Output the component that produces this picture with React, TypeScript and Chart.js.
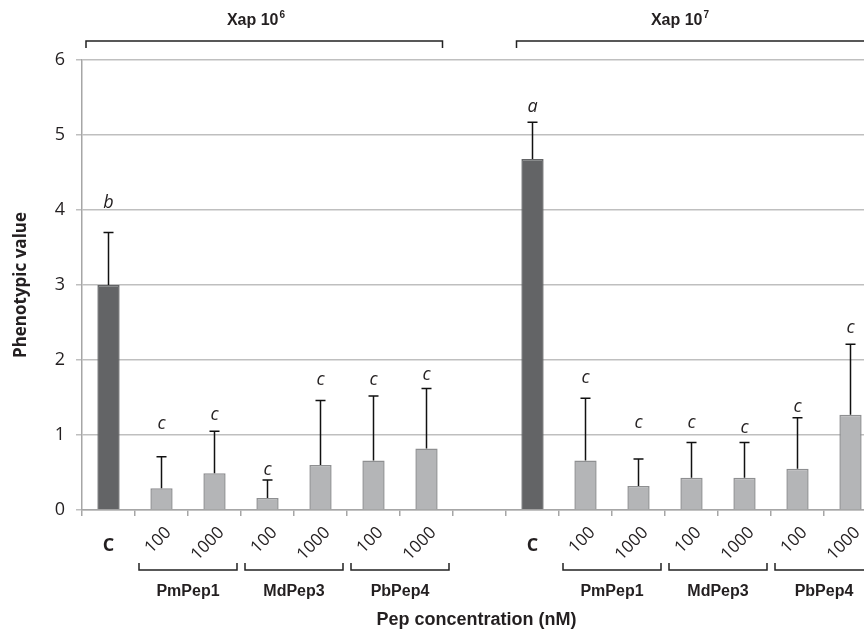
import React, { useEffect, useRef } from 'react';
import { Chart, registerables } from 'chart.js';

Chart.register(...registerables);

// ---- data ----
const categories = ['C', '100', '1000', '100', '1000', '100', '1000', '', 'C', '100', '1000', '100', '1000', '100', '1000'];
const means: (number | null)[] = [3.0, 0.29, 0.49, 0.16, 0.6, 0.66, 0.82, null, 4.68, 0.66, 0.32, 0.43, 0.43, 0.55, 1.27];
const errors: (number | null)[] = [0.7, 0.42, 0.56, 0.24, 0.86, 0.86, 0.8, null, 0.49, 0.83, 0.36, 0.47, 0.47, 0.68, 0.94];
const letters = ['b', 'c', 'c', 'c', 'c', 'c', 'c', '', 'a', 'c', 'c', 'c', 'c', 'c', 'c'];
const letterY: (number | null)[] = [4.09, 1.15, 1.27, 0.53, 1.73, 1.73, 1.8, null, 5.37, 1.76, 1.16, 1.16, 1.09, 1.37, 2.43];
const peptides = ['PmPep1', 'MdPep3', 'PbPep4'];
const peptideStarts = [1, 9];
const inocula = [
  { label: 'Xap 10', sup: '6', start: 0, end: 6 },
  { label: 'Xap 10', sup: '7', start: 8, end: 14 },
];
const yTicks = [0, 1, 2, 3, 4, 5, 6];
const yTitle = 'Phenotypic value';
const xTitle = 'Pep concentration (nM)';

const DARK = '#636466';
const LIGHT = '#b4b5b7';
const LIGHT_BORDER = '#8e8f91';
const GRID = '#bfbfbf';
const TEXT = '#231f20';
const TICKFONT = "'Open Sans', sans-serif";
const ARIAL = "'Liberation Sans', Arial, sans-serif";

const overlay = {
  id: 'overlay',
  afterDraw(chart: any) {
    const ctx = chart.ctx as CanvasRenderingContext2D;
    const xs = chart.scales.x;
    const ys = chart.scales.y;
    const meta = chart.getDatasetMeta(0);
    const cw = xs.getPixelForValue(1) - xs.getPixelForValue(0);
    const bound = (i: number) => xs.getPixelForValue(i) - cw / 2;
    const axisY = ys.getPixelForValue(0);
    ctx.save();

    // error bars
    ctx.strokeStyle = '#111';
    ctx.lineWidth = 1.5;
    means.forEach((m, i) => {
      if (m == null || errors[i] == null) return;
      const x = meta.data[i].x;
      const y0 = ys.getPixelForValue(m);
      const y1 = ys.getPixelForValue(m + (errors[i] as number));
      ctx.beginPath();
      ctx.moveTo(x, y0);
      ctx.lineTo(x, y1);
      ctx.moveTo(x - 5, y1);
      ctx.lineTo(x + 5, y1);
      ctx.stroke();
    });

    // significance letters
    ctx.fillStyle = TEXT;
    ctx.font = `italic 18px ${TICKFONT}`;
    ctx.textAlign = 'center';
    ctx.textBaseline = 'middle';
    letters.forEach((l, i) => {
      if (!l || letterY[i] == null) return;
      ctx.fillText(l, xs.getPixelForValue(i), ys.getPixelForValue(letterY[i] as number));
    });

    // x category labels
    categories.forEach((c, i) => {
      if (!c) return;
      const cx = xs.getPixelForValue(i);
      if (c === 'C') {
        ctx.font = `bold 18px ${TICKFONT}`;
        ctx.textAlign = 'center';
        ctx.textBaseline = 'middle';
        ctx.fillText(c, cx, axisY + 36);
      } else {
        ctx.save();
        ctx.translate(cx + 7, axisY + 20);
        ctx.rotate(-Math.PI / 4);
        ctx.font = `17px ${TICKFONT}`;
        ctx.textAlign = 'right';
        ctx.textBaseline = 'middle';
        ctx.fillText(c, 0, 0);
        ctx.restore();
      }
    });

    // bottom brackets + peptide labels
    ctx.strokeStyle = '#222';
    ctx.lineWidth = 1.5;
    const bTop = axisY + 53;
    const bBot = axisY + 60;
    peptideStarts.forEach((s) => {
      peptides.forEach((p, k) => {
        const i0 = s + 2 * k;
        const l = bound(i0) + 4;
        const r = bound(i0 + 2) - 4;
        ctx.beginPath();
        ctx.moveTo(l, bTop);
        ctx.lineTo(l, bBot);
        ctx.lineTo(r, bBot);
        ctx.lineTo(r, bTop);
        ctx.stroke();
        ctx.fillStyle = TEXT;
        ctx.font = `bold 16px ${ARIAL}`;
        ctx.textAlign = 'center';
        ctx.textBaseline = 'middle';
        ctx.fillText(p, bound(i0 + 1), axisY + 82);
      });
    });

    // top brackets + inoculum labels
    const gapCenter = (bound(inocula[0].end + 1) + bound(inocula[1].start)) / 2;
    const tTop = chart.chartArea.top - 19;
    const tBot = chart.chartArea.top - 12;
    inocula.forEach((g, k) => {
      const l = k === 0 ? bound(g.start) + 4 : gapCenter + 37;
      const r = k === 0 ? gapCenter - 37 : bound(g.end + 1) - 4;
      ctx.beginPath();
      ctx.moveTo(l, tBot);
      ctx.lineTo(l, tTop);
      ctx.lineTo(r, tTop);
      ctx.lineTo(r, tBot);
      ctx.stroke();
      const mainFont = `bold 16px ${ARIAL}`;
      const supFont = `bold 10px ${ARIAL}`;
      ctx.font = mainFont;
      const w1 = ctx.measureText(g.label).width;
      ctx.font = supFont;
      const w2 = ctx.measureText(g.sup).width;
      const cx = (bound(g.start) + bound(g.end + 1)) / 2 - 12;
      const x0 = cx - (w1 + w2) / 2;
      const ty = chart.chartArea.top - 41;
      ctx.fillStyle = TEXT;
      ctx.textAlign = 'left';
      ctx.textBaseline = 'alphabetic';
      ctx.font = mainFont;
      ctx.fillText(g.label, x0, ty + 6);
      ctx.font = supFont;
      ctx.fillText(g.sup, x0 + w1 + 1, ty - 1);
    });

    // axis titles
    ctx.fillStyle = TEXT;
    ctx.font = `bold 17px ${TICKFONT}`;
    ctx.textAlign = 'center';
    ctx.textBaseline = 'middle';
    ctx.save();
    ctx.translate(21, (chart.chartArea.top + chart.chartArea.bottom) / 2);
    ctx.rotate(-Math.PI / 2);
    ctx.fillText(yTitle, 0, 0);
    ctx.restore();

    ctx.font = `bold 18px ${ARIAL}`;
    ctx.fillText(xTitle, (chart.chartArea.left + chart.chartArea.right) / 2 - 3, axisY + 110);

    ctx.restore();
  },
};

export default function App() {
  const ref = useRef<HTMLCanvasElement>(null);
  useEffect(() => {
    document.body.style.margin = '0';
    document.body.style.overflow = 'hidden';
    const canvas = ref.current;
    if (!canvas) return;
    const chart = new Chart(canvas, {
      type: 'bar',
      data: {
        labels: categories,
        datasets: [
          {
            data: means as any,
            backgroundColor: categories.map((c) => (c === 'C' ? DARK : LIGHT)),
            borderColor: categories.map((c) => (c === 'C' ? DARK : LIGHT_BORDER)),
            borderWidth: 1.5,
            barPercentage: 0.42,
            categoryPercentage: 1,
          },
        ],
      },
      options: {
        responsive: false,
        animation: false,
        events: [],
        layout: { padding: { top: 60, right: 23, left: 0, bottom: 0 } },
        plugins: { legend: { display: false }, tooltip: { enabled: false }, title: { display: false } },
        scales: {
          x: {
            type: 'category',
            offset: true,
            grid: { display: true, drawOnChartArea: false, drawTicks: true, tickLength: 6, color: '#a6a6a6', offset: true, lineWidth: 1.5 },
            border: { display: true, color: '#a6a6a6', width: 1.5 },
            ticks: { display: false },
            afterFit: (scale: any) => {
              scale.height = 123;
            },
          },
          y: {
            min: 0,
            max: 6,
            afterBuildTicks: (scale: any) => {
              scale.ticks = yTicks.map((v) => ({ value: v }));
            },
            grid: { color: GRID, lineWidth: 1.5, tickLength: 6, drawTicks: true },
            border: { display: true, color: '#a6a6a6', width: 1.5 },
            ticks: {
              color: TEXT,
              font: { family: TICKFONT, size: 18 },
              padding: 11,
            },
            afterFit: (scale: any) => {
              scale.width = 82;
            },
          },
        },
      },
      plugins: [overlay],
    });
    return () => chart.destroy();
  }, []);
  return (
    <div style={{ width: 864, height: 633, overflow: 'hidden', position: 'relative', background: '#fff' }}>
      <canvas ref={ref} width={900} height={633} style={{ width: 900, height: 633, display: 'block' }} />
    </div>
  );
}
